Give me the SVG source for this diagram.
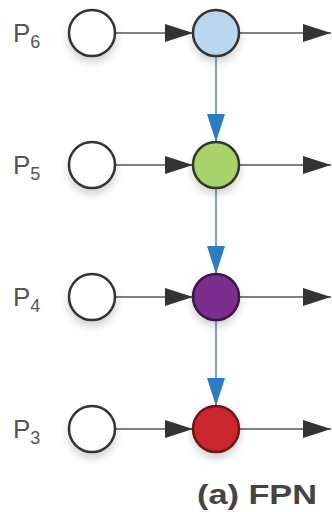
<svg xmlns="http://www.w3.org/2000/svg" width="332" height="512" viewBox="0 0 332 512">
  <defs>
    <style>
      .lbl { font-family: "Liberation Sans", Arial, sans-serif; fill: #555; font-size: 26px; }
      .sub { font-size: 18px; }
      .cap { font-family: "Liberation Sans", Arial, sans-serif; fill: #444; font-size: 28px; font-weight: bold; }
      .in { fill: #fff; stroke: #333; stroke-width: 2.5; }
      .out { stroke-width: 2.5; }
      .h { stroke: #555; stroke-width: 1.6; fill: none; }
      .v { stroke: #5b8fbf; stroke-width: 1.6; fill: none; }
    </style>
    <marker id="ah" markerWidth="28" markerHeight="20" refX="28" refY="10" orient="auto" markerUnits="userSpaceOnUse">
      <path d="M0,1 L28,10 L0,19 Z" fill="#333"/>
    </marker>
    <marker id="av" markerWidth="28" markerHeight="20" refX="28" refY="10" orient="auto" markerUnits="userSpaceOnUse">
      <path d="M0,1 L28,10 L0,19 Z" fill="#2b7cc4"/>
    </marker>
    <filter id="sh" x="-50%" y="-50%" width="200%" height="200%">
      <feGaussianBlur in="SourceAlpha" stdDeviation="4"/>
      <feOffset dy="5"/>
      <feComponentTransfer><feFuncA type="linear" slope="0.18"/></feComponentTransfer>
      <feMerge><feMergeNode/><feMergeNode in="SourceGraphic"/></feMerge>
    </filter>
  </defs>

  <g id="connectors">
    <!-- lateral connections -->
    <line class="h" x1="115" y1="33" x2="193" y2="33" marker-end="url(#ah)"/>
    <line class="h" x1="115" y1="165" x2="193" y2="165" marker-end="url(#ah)"/>
    <line class="h" x1="115" y1="297" x2="193" y2="297" marker-end="url(#ah)"/>
    <line class="h" x1="115" y1="429" x2="193" y2="429" marker-end="url(#ah)"/>
    <!-- outputs -->
    <line class="h" x1="239" y1="33" x2="331" y2="33" marker-end="url(#ah)"/>
    <line class="h" x1="239" y1="165" x2="331" y2="165" marker-end="url(#ah)"/>
    <line class="h" x1="239" y1="297" x2="331" y2="297" marker-end="url(#ah)"/>
    <line class="h" x1="239" y1="429" x2="331" y2="429" marker-end="url(#ah)"/>
    <!-- top-down pathway -->
    <line class="v" x1="216" y1="56" x2="216" y2="142" marker-end="url(#av)"/>
    <line class="v" x1="216" y1="188" x2="216" y2="274" marker-end="url(#av)"/>
    <line class="v" x1="216" y1="320" x2="216" y2="406" marker-end="url(#av)"/>
  </g>

  <g id="p6">
    <text class="lbl" x="13" y="42">P<tspan class="sub" dy="6">6</tspan></text>
    <circle class="in" cx="92" cy="33" r="23" filter="url(#sh)"/>
    <circle class="out" cx="216" cy="33" r="23" fill="#bad6ee" stroke="#333" filter="url(#sh)"/>
  </g>
  <g id="p5">
    <text class="lbl" x="13" y="174">P<tspan class="sub" dy="6">5</tspan></text>
    <circle class="in" cx="92" cy="165" r="23" filter="url(#sh)"/>
    <circle class="out" cx="216" cy="165" r="23" fill="#a8d36c" stroke="#2f3a24" filter="url(#sh)"/>
  </g>
  <g id="p4">
    <text class="lbl" x="13" y="306">P<tspan class="sub" dy="6">4</tspan></text>
    <circle class="in" cx="92" cy="297" r="23" filter="url(#sh)"/>
    <circle class="out" cx="216" cy="297" r="23" fill="#7c2e8f" stroke="#3e1847" filter="url(#sh)"/>
  </g>
  <g id="p3">
    <text class="lbl" x="13" y="438">P<tspan class="sub" dy="6">3</tspan></text>
    <circle class="in" cx="92" cy="429" r="23" filter="url(#sh)"/>
    <circle class="out" cx="216" cy="429" r="23" fill="#cb252d" stroke="#6e1519" filter="url(#sh)"/>
  </g>

  <g id="caption">
    <text class="cap" x="197" y="504" textLength="120" lengthAdjust="spacingAndGlyphs">(a) FPN</text>
  </g>
</svg>
